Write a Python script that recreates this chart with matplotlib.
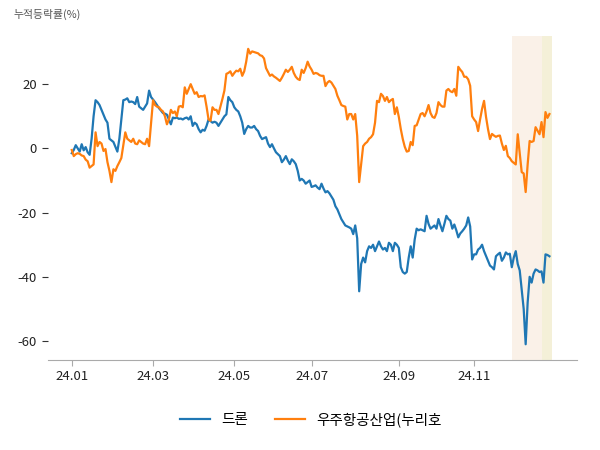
import matplotlib
matplotlib.use("Agg")
import matplotlib.pyplot as plt
import numpy as np
import pandas as pd

plt.rcParams['font.family'] = ['Noto Sans CJK KR', 'DejaVu Sans']
plt.rcParams['axes.unicode_minus'] = False

# Korean trading calendar 2024
holidays = ['2024-01-01', '2024-02-09', '2024-02-12', '2024-03-01', '2024-04-10',
            '2024-05-01', '2024-05-06', '2024-05-15', '2024-06-06', '2024-08-15',
            '2024-09-16', '2024-09-17', '2024-09-18', '2024-10-01', '2024-10-03',
            '2024-10-09', '2024-12-25']
days = pd.bdate_range('2024-01-02', '2024-12-30')
days = days[~days.isin(pd.to_datetime(holidays))]

drone = [-1.5, -0.5, 1.0, 0.0, -1.0, 1.3, -0.6, 0.4, -1.2, -2.0,
         3.0, 10.0, 15.0, 14.4, 13.5, 12.0, 10.5, 9.0, 8.0, 3.0,
         2.5, 2.0, 0.5, -1.0, 3.0, 9.0, 15.0, 15.2, 15.6, 14.4,
         14.6, 14.4, 13.8, 16.0, 13.0, 12.5, 12.0, 13.0, 14.0, 18.0,
         16.0, 15.2, 14.4, 13.5, 12.5, 11.8, 11.0, 10.8, 10.5, 9.0,
         7.5, 9.6, 9.4, 9.6, 9.2, 9.3, 9.0, 9.4, 9.6, 9.0,
         10.0, 7.0, 8.0, 7.5, 6.0, 5.0, 5.8, 5.5, 7.0, 9.0,
         8.5, 8.0, 8.3, 8.0, 7.0, 8.0, 9.0, 10.0, 10.6, 16.0,
         15.0, 14.4, 12.8, 12.0, 11.5, 10.0, 8.0, 4.5, 6.0, 7.0,
         6.5, 6.5, 7.0, 6.0, 5.4, 3.9, 2.9, 3.2, 3.5, 1.5,
         0.4, 1.3, 0.0, -1.2, -1.8, -2.4, -4.3, -3.5, -2.4, -3.8,
         -4.9, -3.4, -4.0, -4.9, -7.0, -10.0, -9.5, -10.0, -11.0, -10.5,
         -10.0, -12.0, -11.8, -11.5, -12.2, -12.7, -11.0, -12.5, -13.7, -13.3,
         -14.0, -15.0, -16.0, -18.0, -19.0, -20.5, -22.0, -23.0, -24.0, -24.3,
         -24.6, -25.0, -26.7, -24.0, -28.0, -44.5, -36.0, -34.0, -35.5, -32.0,
         -30.5, -31.0, -30.0, -32.0, -30.5, -29.0, -30.5, -31.5, -31.0, -32.0,
         -29.4, -30.0, -32.0, -29.4, -30.0, -31.0, -37.0, -38.5, -39.0, -38.5,
         -34.0, -30.5, -34.0, -28.4, -25.0, -25.5, -25.2, -25.5, -25.8, -21.0,
         -23.5, -25.0, -24.5, -24.0, -25.0, -22.0, -24.0, -25.8, -23.5, -21.0,
         -22.0, -22.5, -25.0, -23.7, -25.5, -27.7, -26.5, -25.8, -25.0, -24.0,
         -21.5, -24.3, -34.6, -33.0, -33.0, -31.5, -31.0, -30.0, -32.0, -33.5,
         -35.0, -36.5, -37.0, -37.7, -33.6, -33.0, -32.5, -35.0, -34.0, -32.4,
         -33.0, -32.8, -37.0, -34.0, -32.0, -36.0, -38.0, -44.0, -50.0, -61.0,
         -48.0, -40.0, -41.8, -39.0, -37.7, -38.0, -38.5, -38.3, -41.8, -33.0,
         -33.2, -33.6]

space = [-0.5, -2.4, -1.8, -1.5, -1.7, -2.2, -2.4, -3.5, -4.0, -6.0,
         -5.5, -5.0, 5.0, 0.7, 2.0, 1.5, -0.8, -0.2, -4.3, -7.0,
         -10.5, -6.5, -7.0, -5.5, -4.3, -3.0, 1.0, 5.0, 3.0, 2.5,
         2.0, 3.0, 1.5, 1.3, 2.5, 2.0, 1.5, 1.3, 3.0, 0.7,
         8.0, 15.0, 13.5, 13.0, 12.8, 12.0, 11.5, 10.0, 7.5, 9.0,
         12.0, 11.0, 11.5, 10.0, 13.0, 13.2, 12.8, 19.0, 17.0, 18.5,
         20.0, 18.5, 17.0, 17.5, 16.0, 16.3, 16.2, 16.5, 13.0, 9.0,
         8.6, 12.8, 12.0, 12.0, 10.7, 13.0, 15.4, 18.0, 23.2, 23.5,
         24.0, 22.6, 23.5, 24.2, 24.0, 24.8, 22.6, 24.0, 27.0, 31.0,
         29.5, 30.2, 30.0, 29.8, 29.6, 29.0, 28.8, 28.0, 25.0, 23.8,
         22.6, 23.0, 22.4, 22.0, 21.5, 21.0, 22.0, 23.2, 24.5, 23.8,
         24.5, 25.4, 23.5, 22.3, 21.6, 21.3, 24.5, 23.5, 25.0, 27.0,
         25.5, 24.5, 23.2, 23.5, 23.3, 22.8, 22.6, 22.6, 19.4, 20.5,
         21.0, 20.5, 19.5, 18.5, 16.4, 15.0, 13.5, 13.2, 13.0, 9.0,
         10.7, 10.7, 9.0, 10.7, 3.9, -10.5, -5.0, 0.7, 1.5, 2.0,
         3.0, 3.5, 4.4, 8.0, 14.8, 14.4, 17.0, 16.3, 14.8, 16.0,
         14.4, 15.0, 15.4, 10.7, 12.8, 9.8, 6.0, 2.9, 0.5, -1.0,
         -0.8, 2.0, 1.0, 7.0, 7.2, 9.0, 10.7, 11.0, 10.0, 11.5,
         13.5, 11.0, 9.8, 9.5, 11.0, 14.4, 13.5, 13.0, 13.0, 18.0,
         18.5, 17.8, 17.5, 18.5, 16.4, 25.4, 24.5, 23.8, 22.3, 22.3,
         21.5, 19.5, 10.0, 9.0, 8.2, 5.4, 9.0, 12.3, 14.8, 9.8,
         6.0, 2.9, 4.5, 4.0, 3.6, 3.9, 4.0, 1.5, -0.5, 0.8,
         -2.4, -3.0, -4.0, -4.5, -5.0, 4.4, -1.5, -7.4, -7.8, -13.6,
         -5.0, 2.3, 2.0, 2.3, 6.6, 5.5, 4.4, 8.2, 3.5, 11.3,
         9.5, 10.7]

labels = ['드론', '우주항공산업(누리호']
tick_months = [1, 3, 5, 7, 9, 11]

dates = days[:len(drone)]
x = np.arange(len(dates))

fig = plt.figure(figsize=(6, 4.5), dpi=100)
ax = fig.add_axes([0.08, 0.2, 0.882, 0.72])

# highlighted periods
s1 = dates.searchsorted(pd.Timestamp('2024-11-28'))
s2 = dates.searchsorted(pd.Timestamp('2024-12-19'))
ax.axvspan(s1, s2, color='#faf1e8', lw=0, zorder=0)
ax.axvspan(s2, len(dates) + 0.3, color='#f4f0d8', lw=0, zorder=0)

ax.plot(x, drone, color='#1f77b4', lw=1.6, label=labels[0])
ax.plot(x, space, color='#ff7f0e', lw=1.6, label=labels[1])

ticks = [int(np.argmax(dates.month == m)) for m in tick_months]
ax.set_xticks(ticks)
ax.set_xticklabels(['24.%02d' % m for m in tick_months])
ax.set_yticks([20, 0, -20, -40, -60])

ax.set_xlim(-12, 255)
ax.set_ylim(-65.9, 35)

for side in ['left', 'top', 'right']:
    ax.spines[side].set_visible(False)
ax.spines['bottom'].set_color('#aaaaaa')
ax.tick_params(axis='x', colors='#aaaaaa', labelcolor='#222222', length=4, labelsize=9.5)
ax.tick_params(axis='y', colors='#333333', labelcolor='#222222', length=4, labelsize=9.5, pad=4)

fig.text(0.022, 0.968, '누적등락률(%)', fontsize=7.8, color='#555555', ha='left', va='center')

fig.legend(loc='center', bbox_to_anchor=(0.518, 0.067), ncol=2, frameon=False,
           fontsize=10.5, handlelength=2.05, handletextpad=0.8, columnspacing=1.8)

fig.savefig('out.png', dpi=100)
